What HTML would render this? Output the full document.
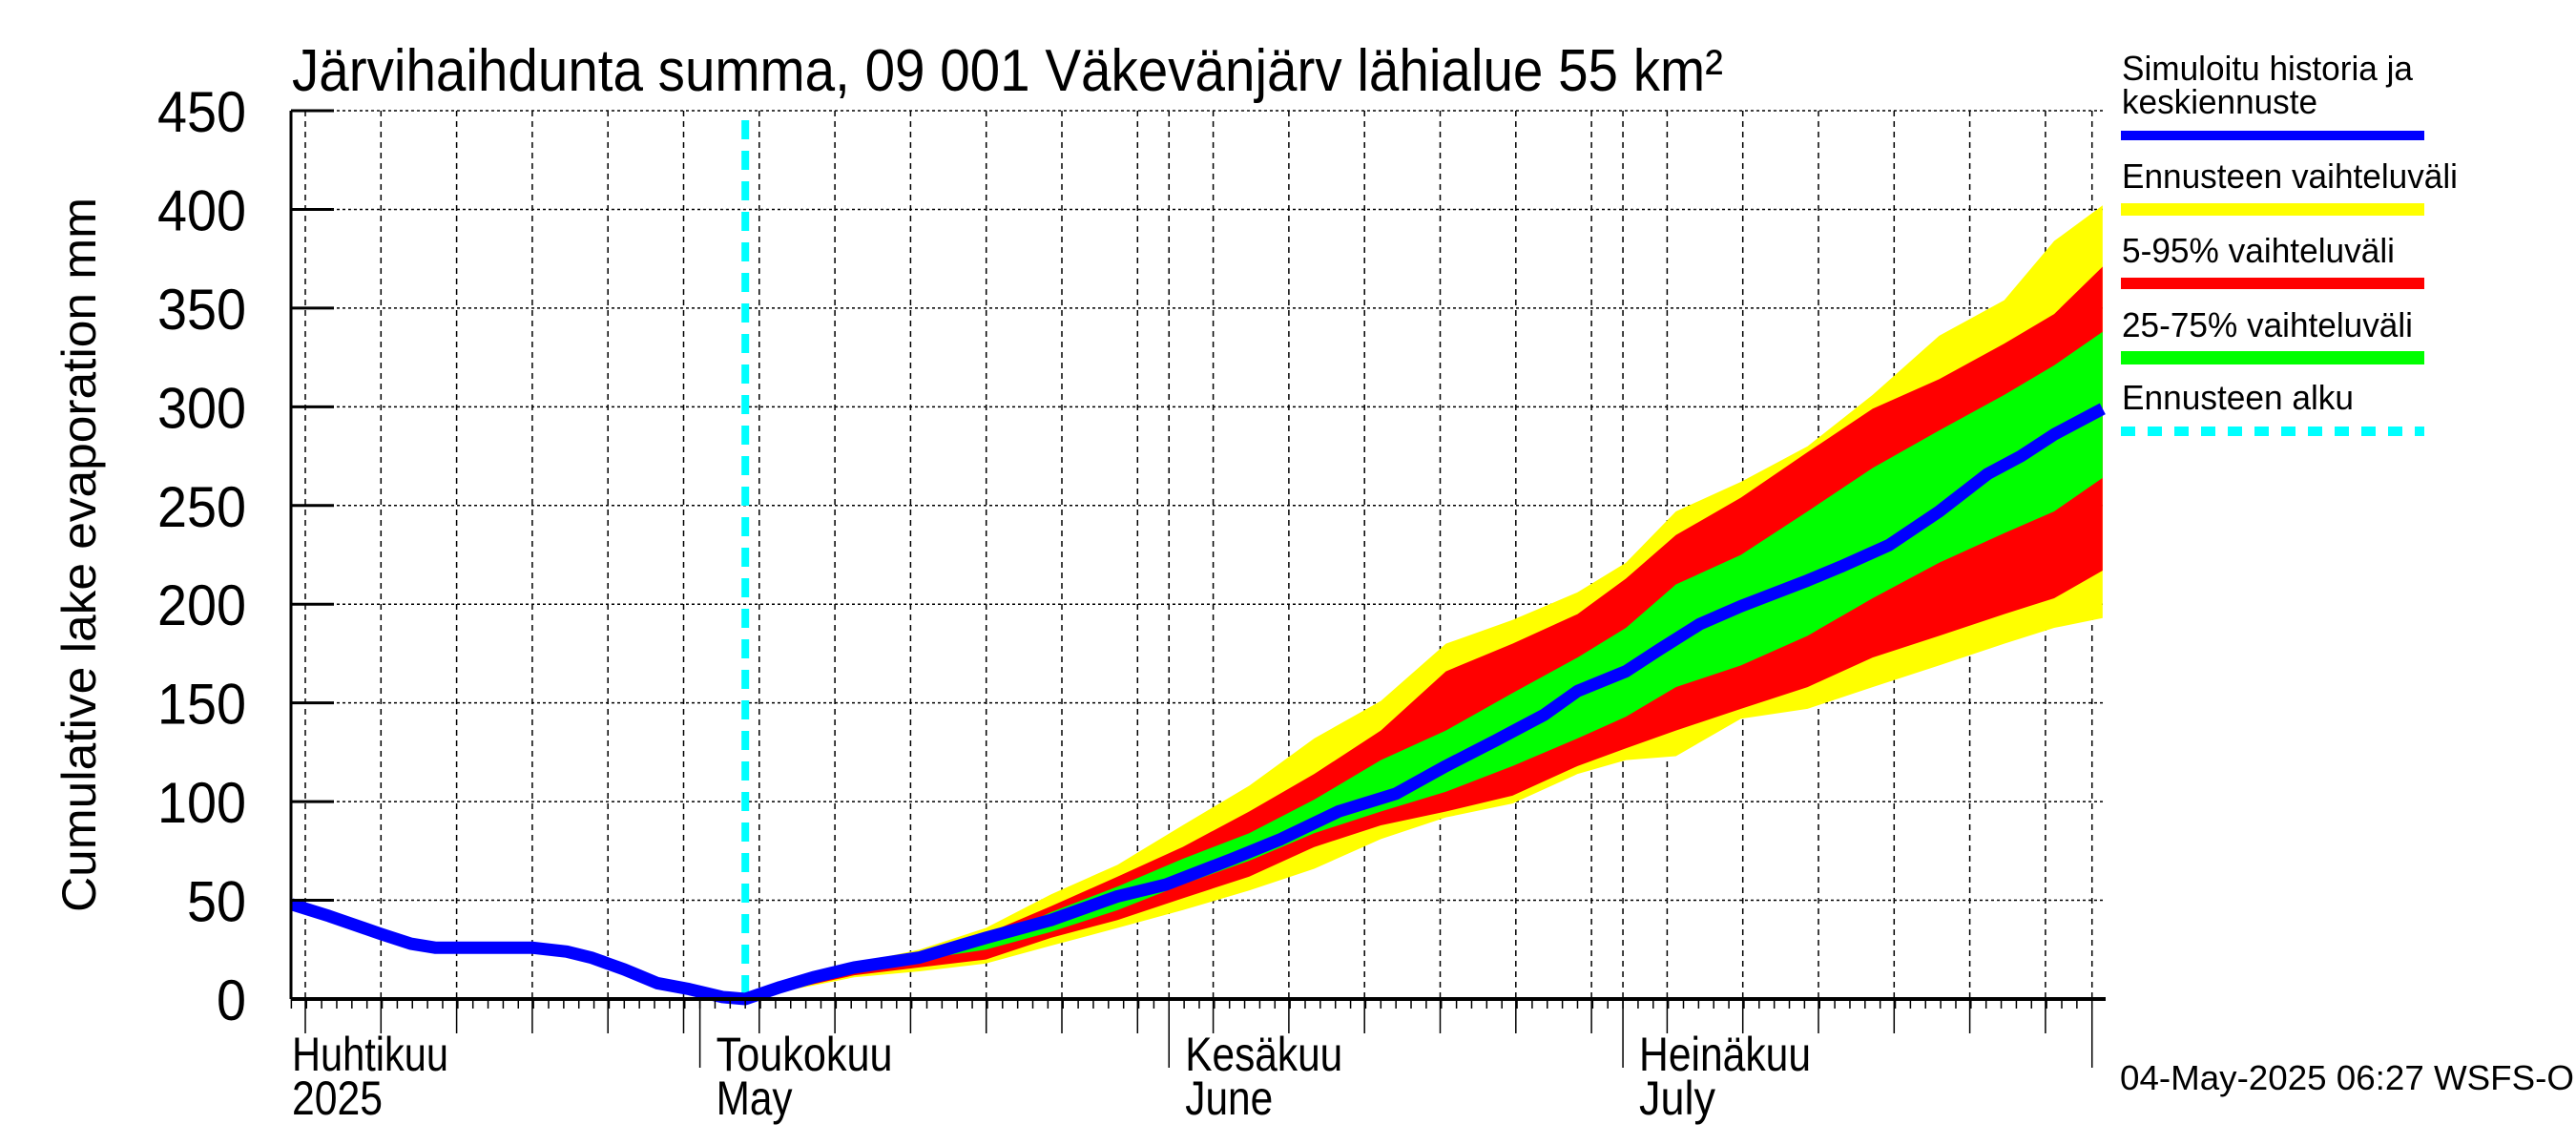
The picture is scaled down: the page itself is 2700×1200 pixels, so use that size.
<!DOCTYPE html>
<html><head><meta charset="utf-8"><style>
html,body{margin:0;padding:0;background:#fff}
svg{display:block}
text{font-family:"Liberation Sans",sans-serif;fill:#000}
</style></head><body>
<svg id="chart" width="2700" height="1200" viewBox="0 0 2700 1200" xmlns="http://www.w3.org/2000/svg">
<text x="306" y="95" font-size="62" textLength="1500" lengthAdjust="spacingAndGlyphs">Järvihaihdunta summa, 09 001 Väkevänjärv lähialue 55 km²</text>
<text transform="translate(100,956) rotate(-90)" font-size="50" textLength="749" lengthAdjust="spacingAndGlyphs">Cumulative lake evaporation   mm</text>
<g id="grid"></g>
<g id="bands"></g>
<g id="axes"></g>
<g id="legend">
<text x="2224" y="84" font-size="36" textLength="305" lengthAdjust="spacingAndGlyphs">Simuloitu historia ja</text>
<text x="2224" y="119" font-size="36" textLength="205" lengthAdjust="spacingAndGlyphs">keskiennuste</text>
<rect x="2223" y="137" width="318" height="10" fill="#0000ff"/>
<text x="2224" y="197" font-size="36" textLength="352" lengthAdjust="spacingAndGlyphs">Ennusteen vaihteluväli</text>
<rect x="2223" y="213" width="318" height="13" fill="#ffff00"/>
<text x="2224" y="275" font-size="36" textLength="286" lengthAdjust="spacingAndGlyphs">5-95% vaihteluväli</text>
<rect x="2223" y="291" width="318" height="12" fill="#ff0000"/>
<text x="2224" y="353" font-size="36" textLength="305" lengthAdjust="spacingAndGlyphs">25-75% vaihteluväli</text>
<rect x="2223" y="368" width="318" height="14" fill="#00ff00"/>
<text x="2224" y="429" font-size="36" textLength="243" lengthAdjust="spacingAndGlyphs">Ennusteen alku</text>
<line x1="2223" y1="452" x2="2541" y2="452" stroke="#00ffff" stroke-width="10" stroke-dasharray="15 13"/>
</g>
<text x="2222" y="1142" font-size="36" textLength="476" lengthAdjust="spacingAndGlyphs">04-May-2025 06:27 WSFS-O</text>
</svg>
<script>
// Data (t = days relative to 1 May 2025)
const histT = [-27,-24.5,-21.1,-19.1,-17.5,-11.1,-8.8,-7.2,-5.0,-2.8,-0.7,1.5,3.0,5.3,7.5,10.2,14.5,18.9,23.2,27.6,30.8,35.2,38.4,42.2,46.0,49.3,52.6,55.8,58.0,61.2,63.4,66.1,68.8,73.2,75.4,78.6,81.9,85.1,87.3,89.5,92.7];
const histV = [48,42,33,28,26,26,24,21,15,8,5,1,0,6,11,16,21,31,40,52,58,71,81,95,104,118,131,144,156,166,177,190,199,212,219,230,247,266,275,286,299];
const bandT = [3.0,10.2,14.5,18.9,23.2,27.6,31.9,36.3,40.6,45.0,49.3,53.7,58.0,61.2,64.5,68.8,73.2,77.5,81.9,86.2,89.5,92.7];
const yelHi = [0,18,25,36,53,68,88,108,132,151,180,192,206,221,247,262,280,306,336,354,384,402];
const redHi = [0,16,23,33,47,62,77,95,114,136,166,180,195,213,235,254,277,299,314,332,347,371];
const grnHi = [0,15,21,29,44,57,71,84,101,121,136,155,173,188,210,225,247,269,288,306,321,338];
const grnLo = [0,14,20,25,34,45,58,70,84,95,105,118,132,143,158,169,184,203,221,236,247,264];
const redLo = [0,12,16,20,31,40,51,62,77,88,95,103,118,127,136,147,158,173,184,195,203,217];
const yelLo = [0,11,14,18,27,36,45,55,66,81,92,99,114,121,123,142,147,158,169,180,188,193];
const yTicks = [0,50,100,150,200,250,300,350,400,450];
const monthT = [0,31,61,92];
const monthFi = ["Toukokuu","Kesäkuu","Heinäkuu"];
const monthEn = ["May","June","July"];
const forecastStart = 3;

const NS="http://www.w3.org/2000/svg";
const X0=305,X1=2207,Y0=1047,Y450=116;
function x(t){return 733.6+15.86*t;}
function y(v){return Y0-v*(Y0-Y450)/450;}
function mk(tag,attrs,parent){const e=document.createElementNS(NS,tag);for(const k in attrs)e.setAttribute(k,attrs[k]);parent.appendChild(e);return e;}
const grid=document.getElementById('grid'),bands=document.getElementById('bands'),axes=document.getElementById('axes'),svg=document.getElementById('chart');

yTicks.forEach(v=>{
  if(v>0){const l=mk('line',{x1:X0,x2:X1,y1:y(v),y2:y(v),stroke:'#000','stroke-width':1.5,'stroke-dasharray':'3 3'},grid);
  
  }
});
for(let gx=320;gx<X1;gx+=79.3){
  const l=mk('line',{x1:gx,x2:gx,y1:Y450,y2:Y0,stroke:'#000','stroke-width':1.5,'stroke-dasharray':'6 5'},grid);
  
  
  const tk=mk('line',{x1:gx,x2:gx,y1:Y0,y2:Y0+36,stroke:'#000','stroke-width':1.5},axes);
  
  
}
monthT.forEach(t=>{
  if(t>0){const l=mk('line',{x1:x(t),x2:x(t),y1:Y450,y2:Y0,stroke:'#000','stroke-width':1.5,'stroke-dasharray':'6 5'},grid);
  
  }
});

function band(hi,lo,color,name){
  let d='M'+bandT.map((t,i)=>x(t)+','+y(hi[i])).join(' L');
  for(let i=bandT.length-1;i>=0;i--)d+=' L'+x(bandT[i])+','+y(lo[i]);
  const p=mk('path',{d:d+'Z',fill:color},bands);
  
  
}
band(yelHi,yelLo,'#ffff00','band-min-max');
band(redHi,redLo,'#ff0000','band-5-95');
band(grnHi,grnLo,'#00ff00','band-25-75');

const cy=mk('line',{x1:x(forecastStart),x2:x(forecastStart),y1:Y450+10,y2:Y0,stroke:'#00ffff','stroke-width':8,'stroke-dasharray':'20 12'},bands);



const hl=mk('polyline',{points:histT.map((t,i)=>x(t)+','+y(histV[i])).join(' '),fill:'none',stroke:'#0000ff','stroke-width':13,'stroke-linejoin':'round'},bands);



const ax=mk('line',{x1:X0,x2:X1,y1:Y0,y2:Y0,stroke:'#000','stroke-width':4},axes);


const ay=mk('line',{x1:X0,x2:X0,y1:Y450,y2:Y0,stroke:'#000','stroke-width':3},axes);


yTicks.forEach(v=>{
  const tk=mk('line',{x1:X0,x2:X0+45,y1:y(v),y2:y(v),stroke:'#000','stroke-width':3},axes);
  
  
  const tx=mk('text',{x:258,y:y(v)+22,'font-size':60,'text-anchor':'end',textLength:String(v).length*31,lengthAdjust:'spacingAndGlyphs'},axes);
  tx.textContent=v;
  
  
});
for(let t=-27;t<=92;t++){
  const tk=mk('line',{x1:x(t),x2:x(t),y1:Y0,y2:Y0+10,stroke:'#000','stroke-width':1.5},axes);
  
  
}
monthT.forEach(t=>{
  const tk=mk('line',{x1:x(t),x2:x(t),y1:Y0,y2:Y0+72,stroke:'#000','stroke-width':1.5},axes);
  
  
});
function lbl(txt,xx,yy,w,name){
  const e=mk('text',{x:xx,y:yy,'font-size':50,textLength:w,lengthAdjust:'spacingAndGlyphs'},axes);
  e.textContent=txt;
  
  
}
lbl('Huhtikuu',306,1122,164,'x-month-label');
lbl('2025',306,1168,95,'x-year-label');
const fiW=[185,165,180],enW=[80,92,80];
monthFi.forEach((m,i)=>{
  const xx=x(monthT[i])+17;
  lbl(m,xx,1122,fiW[i],'x-month-label');
  lbl(monthEn[i],xx,1168,enW[i],'x-month-label-en');
});
</script>
</body></html>
